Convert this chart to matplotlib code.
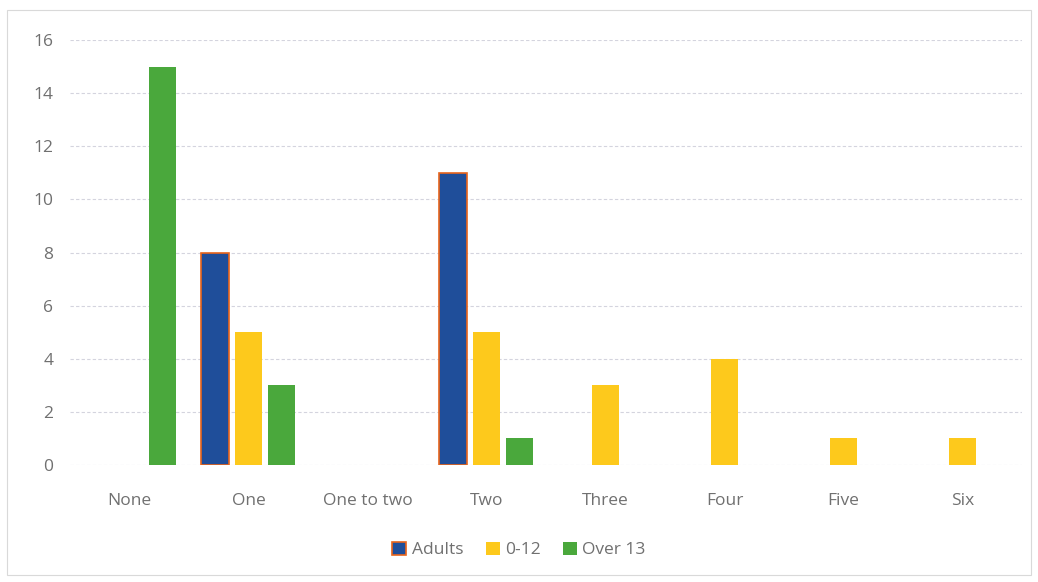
import matplotlib.pyplot as plt
import numpy as np
from matplotlib.patches import Rectangle

categories = ['None', 'One', 'One to two', 'Two', 'Three', 'Four', 'Five', 'Six']
adults = [0, 8, 0, 11, 0, 0, 0, 0]
kids = [0, 5, 0, 5, 3, 4, 1, 1]
over13 = [15, 3, 0, 1, 0, 0, 0, 0]

plt.rcParams['font.family'] = ['Open Sans', 'DejaVu Sans']

fig = plt.figure(figsize=(10.38, 5.82), dpi=100)
ax = fig.add_axes([0.0674, 0.201, 0.9172, 0.730])

x = np.arange(len(categories))
w = 0.23
off = 0.28
# pas de contour orange sur les barres nulles
lw = [1.2 if v > 0 else 0 for v in adults]
ax.bar(x - off, adults, w, color='#1f4e9a', edgecolor='#e8641b', linewidth=lw, label='Adults')
ax.bar(x, kids, w, color='#fdc91c', label='0-12')
ax.bar(x + off, over13, w, color='#4aa83c', label='Over 13')

ax.set_xlim(-0.5, len(categories) - 0.5)
ax.set_ylim(0, 16)
ax.set_yticks(range(0, 17, 2))
ax.set_xticks(x)
ax.set_xticklabels(categories)
ax.tick_params(length=0, colors='#707070', labelsize=12.5)
ax.tick_params(axis='y', pad=12)
ax.tick_params(axis='x', pad=20)
ax.yaxis.grid(True, color='#d4d4de', linestyle=(0, (3, 2)), linewidth=0.8)
ax.set_axisbelow(True)
for s in ax.spines.values():
    s.set_visible(False)

leg = fig.legend(loc='center', bbox_to_anchor=(0.5, 0.055), ncol=3, frameon=False,
                 fontsize=12.5, handlelength=0.8, handleheight=0.8, handletextpad=0.3,
                 columnspacing=1.3)
leg.legend_handles[0].set_linewidth(1.2)
for t in leg.get_texts():
    t.set_color('#707070')

fig.patches.append(Rectangle((0.007, 0.012), 0.986, 0.97, transform=fig.transFigure,
                             fill=False, edgecolor='#d9d9d9', linewidth=0.8))

fig.savefig('out.png', dpi=100)
